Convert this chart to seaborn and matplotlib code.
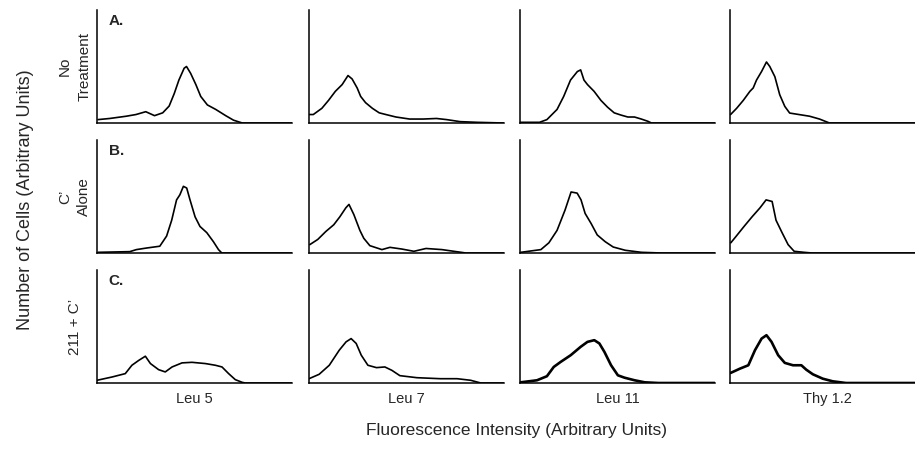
import matplotlib.pyplot as plt
import seaborn as sns
import pandas as pd

sns.set_style('white')
plt.rcParams['font.family'] = ['Liberation Sans', 'DejaVu Sans']

#%%
# histogram traces, x and height as fraction of each panel
leu5_none_x = [0.005, 0.065, 0.15, 0.20, 0.25, 0.295, 0.337, 0.37, 0.396, 0.42, 0.447, 0.459, 0.48, 0.507, 0.532, 0.566, 0.609, 0.66, 0.70, 0.745, 1.0]
leu5_none_y = [0.03, 0.04, 0.06, 0.075, 0.10, 0.065, 0.09, 0.15, 0.26, 0.38, 0.485, 0.50, 0.44, 0.34, 0.235, 0.16, 0.12, 0.065, 0.025, 0.0, 0.0]

leu7_none_x = [0.0, 0.022, 0.066, 0.10, 0.135, 0.17, 0.20, 0.221, 0.247, 0.265, 0.29, 0.325, 0.36, 0.394, 0.446, 0.516, 0.585, 0.654, 0.706, 0.775, 0.862, 1.0]
leu7_none_y = [0.075, 0.075, 0.13, 0.2, 0.28, 0.34, 0.42, 0.39, 0.31, 0.235, 0.18, 0.13, 0.09, 0.075, 0.053, 0.035, 0.035, 0.04, 0.03, 0.012, 0.006, 0.0]

leu11_none_x = [0.0, 0.1, 0.138, 0.19, 0.224, 0.259, 0.294, 0.311, 0.328, 0.346, 0.38, 0.415, 0.449, 0.483, 0.518, 0.553, 0.587, 0.622, 0.656, 0.674, 1.0]
leu11_none_y = [0.006, 0.006, 0.03, 0.12, 0.235, 0.38, 0.455, 0.47, 0.38, 0.34, 0.28, 0.2, 0.14, 0.09, 0.07, 0.053, 0.053, 0.035, 0.015, 0.0, 0.0]

thy_none_x = [0.003, 0.034, 0.068, 0.102, 0.119, 0.136, 0.162, 0.187, 0.204, 0.23, 0.255, 0.281, 0.306, 0.357, 0.408, 0.459, 0.51, 1.0]
thy_none_y = [0.075, 0.13, 0.2, 0.28, 0.31, 0.38, 0.456, 0.54, 0.5, 0.41, 0.25, 0.147, 0.088, 0.074, 0.06, 0.035, 0.0, 0.0]

leu5_c_x = [0.005, 0.168, 0.202, 0.254, 0.322, 0.357, 0.383, 0.408, 0.425, 0.443, 0.46, 0.477, 0.503, 0.528, 0.563, 0.597, 0.623, 0.64, 1.0]
leu5_c_y = [0.006, 0.012, 0.03, 0.044, 0.06, 0.15, 0.29, 0.47, 0.515, 0.59, 0.575, 0.47, 0.32, 0.235, 0.18, 0.1, 0.03, 0.0, 0.0]

leu7_c_x = [0.004, 0.045, 0.086, 0.127, 0.158, 0.189, 0.205, 0.23, 0.261, 0.281, 0.312, 0.374, 0.415, 0.476, 0.538, 0.6, 0.682, 0.743, 0.805, 1.0]
leu7_c_y = [0.074, 0.12, 0.19, 0.25, 0.32, 0.4, 0.43, 0.34, 0.2, 0.13, 0.065, 0.03, 0.05, 0.035, 0.015, 0.04, 0.03, 0.015, 0.0, 0.0]

leu11_c_x = [0.004, 0.107, 0.148, 0.19, 0.231, 0.262, 0.293, 0.313, 0.334, 0.365, 0.396, 0.437, 0.478, 0.54, 0.623, 0.726, 1.0]
leu11_c_y = [0.006, 0.03, 0.09, 0.2, 0.38, 0.54, 0.53, 0.47, 0.35, 0.26, 0.16, 0.1, 0.053, 0.024, 0.006, 0.0, 0.0]

thy_c_x = [0.004, 0.031, 0.072, 0.113, 0.154, 0.185, 0.216, 0.236, 0.267, 0.298, 0.329, 0.38, 0.421, 1.0]
thy_c_y = [0.09, 0.147, 0.235, 0.32, 0.4, 0.47, 0.456, 0.29, 0.18, 0.074, 0.015, 0.006, 0.0, 0.0]

leu5_211_x = [0.0, 0.077, 0.145, 0.179, 0.214, 0.248, 0.274, 0.316, 0.35, 0.385, 0.436, 0.487, 0.556, 0.607, 0.641, 0.675, 0.709, 0.744, 0.761, 1.0]
leu5_211_y = [0.024, 0.053, 0.083, 0.157, 0.2, 0.237, 0.172, 0.118, 0.098, 0.142, 0.178, 0.183, 0.172, 0.157, 0.142, 0.083, 0.03, 0.006, 0.0, 0.0]

leu7_211_x = [0.0, 0.052, 0.104, 0.155, 0.19, 0.216, 0.242, 0.268, 0.302, 0.346, 0.389, 0.425, 0.466, 0.553, 0.674, 0.76, 0.829, 0.881, 1.0]
leu7_211_y = [0.038, 0.077, 0.157, 0.29, 0.364, 0.393, 0.35, 0.246, 0.157, 0.136, 0.142, 0.112, 0.065, 0.047, 0.038, 0.038, 0.024, 0.0, 0.0]

leu11_211_x = [0.003, 0.087, 0.138, 0.173, 0.208, 0.26, 0.311, 0.346, 0.381, 0.407, 0.433, 0.467, 0.502, 0.536, 0.588, 0.64, 0.709, 1.0]
leu11_211_y = [0.006, 0.024, 0.06, 0.142, 0.186, 0.246, 0.32, 0.364, 0.379, 0.35, 0.275, 0.157, 0.068, 0.047, 0.024, 0.006, 0.0, 0.0]

thy_211_x = [0.003, 0.051, 0.094, 0.128, 0.162, 0.187, 0.213, 0.247, 0.281, 0.323, 0.366, 0.391, 0.425, 0.476, 0.527, 0.595, 1.0]
thy_211_y = [0.089, 0.127, 0.157, 0.29, 0.393, 0.423, 0.364, 0.246, 0.178, 0.157, 0.157, 0.118, 0.077, 0.038, 0.015, 0.0, 0.0]

markers = ['Leu 5', 'Leu 7', 'Leu 11', 'Thy 1.2']
treatments = ['No\nTreatment', 'C\u2019\nAlone', '211 + C\u2019']
panel_tags = ['A.', 'B.', 'C.']

traces = [
    [(leu5_none_x, leu5_none_y), (leu7_none_x, leu7_none_y), (leu11_none_x, leu11_none_y), (thy_none_x, thy_none_y)],
    [(leu5_c_x, leu5_c_y), (leu7_c_x, leu7_c_y), (leu11_c_x, leu11_c_y), (thy_c_x, thy_c_y)],
    [(leu5_211_x, leu5_211_y), (leu7_211_x, leu7_211_y), (leu11_211_x, leu11_211_y), (thy_211_x, thy_211_y)],
]

#%%
W, H = 915, 451
fig = plt.figure(figsize=(W / 100, H / 100), dpi=100)

col_left = [97, 309, 520, 730]
row_top = [10, 140, 270]
pw, ph = 195, 113

for r in range(3):
    for c in range(4):
        ax = fig.add_axes([col_left[c] / W, 1 - (row_top[r] + ph) / H, pw / W, ph / H])
        xs, ys = traces[r][c]
        df = pd.DataFrame({'x': xs, 'y': ys})
        lw = 1.9 if (r == 2 and c >= 2) else 1.2
        sns.lineplot(data=df, x='x', y='y', ax=ax, color='black', lw=lw, sort=False)
        ax.set_xlim(0, 1)
        ax.set_ylim(0, 1)
        ax.set_xticks([])
        ax.set_yticks([])
        ax.set_xlabel('')
        ax.set_ylabel('')
        sns.despine(ax=ax, top=True, right=True)
        for s in ['left', 'bottom']:
            ax.spines[s].set_color('black')
            ax.spines[s].set_linewidth(1.1)
        if c == 0:
            ax.text(0.06, 0.9, panel_tags[r], transform=ax.transAxes, fontsize=11,
                    fontweight='bold', ha='left', va='center')
            ax.text(-0.115, 0.5, treatments[r], transform=ax.transAxes, fontsize=11,
                    rotation=90, ha='center', va='center', multialignment='center',
                    linespacing=1.5)
        if r == 2:
            ax.text(0.5, -0.14, markers[c], transform=ax.transAxes, fontsize=10.5,
                    ha='center', va='center')

fig.text(26 / W, 1 - 200 / H, 'Number of Cells (Arbitrary Units)', rotation=90,
         ha='center', va='center', fontsize=13)
fig.text(516 / W, 1 - 431 / H, 'Fluorescence Intensity (Arbitrary Units)',
         ha='center', va='center', fontsize=12.5)

plt.savefig('out.png', dpi=100)
